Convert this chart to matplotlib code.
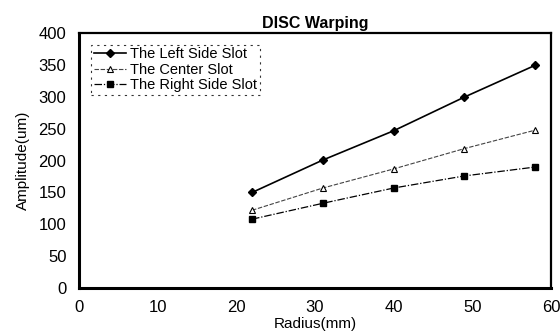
import matplotlib
matplotlib.use('Agg')
import matplotlib.pyplot as plt

radius = [22, 31, 40, 49, 58]
left_slot = [150, 201, 247, 300, 350]
center_slot = [122, 157, 187, 219, 248]
right_slot = [108, 133, 157, 176, 190]

plt.rcParams['font.family'] = ['Liberation Sans', 'DejaVu Sans']

fig = plt.figure(figsize=(5.6, 3.34), dpi=100)
ax = fig.add_axes([0.141, 0.138, 0.843, 0.762])

ax.plot(radius, left_slot, color='black', lw=1.2, marker='D', ms=4,
        label='The Left Side Slot')
ax.plot(radius, center_slot, color='#444444', lw=0.8, ls=(0, (4, 1.5)),
        marker='^', ms=5, mfc='white', mec='black', mew=0.8,
        label='The Center Slot')
ax.plot(radius, right_slot, color='black', lw=0.9, ls=(0, (6, 1.5, 1, 1.5)),
        marker='s', ms=5, label='The Right Side Slot')

ax.set_xlim(0, 60)
ax.set_ylim(0, 400)
ax.set_xticks(range(0, 61, 10))
ax.set_yticks(range(0, 401, 50))
ax.tick_params(axis='y', length=0, labelsize=12, pad=9)
ax.tick_params(axis='x', length=0, labelsize=12, pad=9)
for s in ax.spines.values():
    s.set_linewidth(1.6)
ax.spines['left'].set_linewidth(2.2)
ax.spines['bottom'].set_linewidth(2.2)

ax.set_title('DISC Warping', fontsize=11.5, fontweight='bold', pad=4)
ax.set_xlabel('Radius(mm)', fontsize=11, labelpad=1)
ax.set_ylabel('Amplitude(um)', fontsize=11, labelpad=6)

leg = ax.legend(loc='upper left', fontsize=10.5, frameon=True, fancybox=False,
                borderpad=0.2, labelspacing=0.1, handlelength=2.2,
                handletextpad=0.3, bbox_to_anchor=(0.01, 0.985))
frame = leg.get_frame()
frame.set_edgecolor('black')
frame.set_linestyle((0, (2, 4)))
frame.set_linewidth(0.8)

fig.savefig('out.png', dpi=100)
